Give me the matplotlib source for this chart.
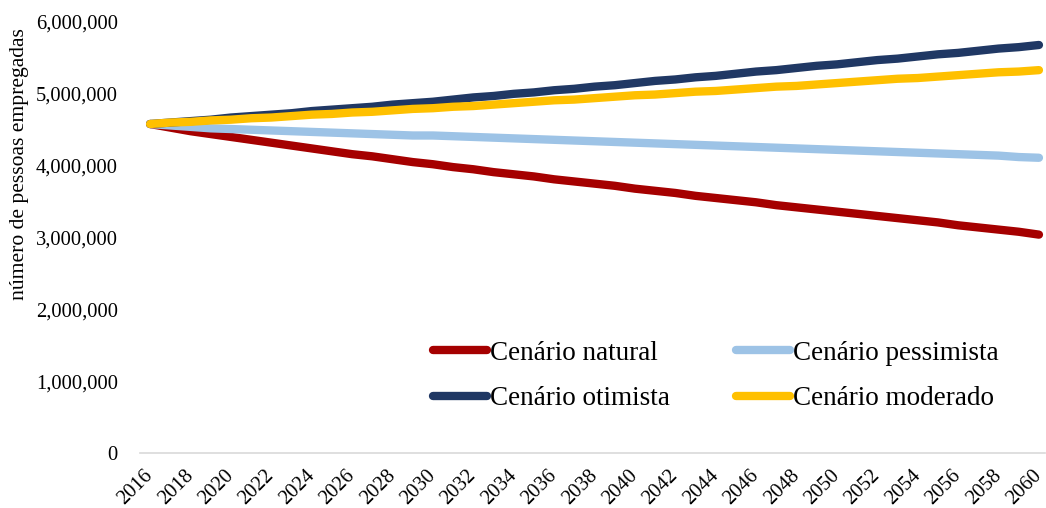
import matplotlib
matplotlib.use("Agg")
import matplotlib.pyplot as plt
from matplotlib.ticker import FuncFormatter

plt.rcParams['font.family'] = ['Liberation Serif', 'DejaVu Serif']

years = list(range(2016, 2061))

natural = [4.58, 4.53, 4.48, 4.44, 4.40, 4.36, 4.32, 4.28, 4.24, 4.20,
           4.16, 4.13, 4.09, 4.05, 4.02, 3.98, 3.95, 3.91, 3.88, 3.85,
           3.81, 3.78, 3.75, 3.72, 3.68, 3.65, 3.62, 3.58, 3.55, 3.52,
           3.49, 3.45, 3.42, 3.39, 3.36, 3.33, 3.30, 3.27, 3.24, 3.21,
           3.17, 3.14, 3.11, 3.08, 3.04]

pessimista = [4.58, 4.56, 4.54, 4.52, 4.51, 4.50, 4.49, 4.48, 4.47, 4.46,
              4.45, 4.44, 4.43, 4.42, 4.42, 4.41, 4.40, 4.39, 4.38, 4.37,
              4.36, 4.35, 4.34, 4.33, 4.32, 4.31, 4.30, 4.29, 4.28, 4.27,
              4.26, 4.25, 4.24, 4.23, 4.22, 4.21, 4.20, 4.19, 4.18, 4.17,
              4.16, 4.15, 4.14, 4.12, 4.11]

otimista = [4.58, 4.60, 4.62, 4.64, 4.67, 4.69, 4.71, 4.73, 4.76, 4.78,
            4.80, 4.82, 4.85, 4.87, 4.89, 4.92, 4.95, 4.97, 5.00, 5.02,
            5.05, 5.07, 5.10, 5.12, 5.15, 5.18, 5.20, 5.23, 5.25, 5.28,
            5.31, 5.33, 5.36, 5.39, 5.41, 5.44, 5.47, 5.49, 5.52, 5.55,
            5.57, 5.60, 5.63, 5.65, 5.68]

moderado = [4.58, 4.60, 4.61, 4.63, 4.64, 4.66, 4.67, 4.69, 4.71, 4.72,
            4.74, 4.75, 4.77, 4.79, 4.80, 4.82, 4.83, 4.85, 4.87, 4.89,
            4.91, 4.92, 4.94, 4.96, 4.98, 4.99, 5.01, 5.03, 5.04, 5.06,
            5.08, 5.10, 5.11, 5.13, 5.15, 5.17, 5.19, 5.21, 5.22, 5.24,
            5.26, 5.28, 5.30, 5.31, 5.33]

series_labels = ["Cenário natural", "Cenário pessimista", "Cenário otimista", "Cenário moderado"]
colors = ["#A50000", "#9DC3E6", "#203864", "#FFC000"]
xtick_years = list(range(2016, 2061, 2))
yticks = [0, 1000000, 2000000, 3000000, 4000000, 5000000, 6000000]
ylabel = "número de pessoas empregadas"

fig = plt.figure(figsize=(10.46, 5.08), dpi=100)
ax = fig.add_axes([140/1046, 55/508, 905/1046, 431/508])

lines = {}
for vals, lab, col in zip([natural, pessimista, otimista, moderado], series_labels, colors):
    (ln,) = ax.plot(years, [v * 1e6 for v in vals], color=col, lw=6.0,
                    solid_capstyle='round', solid_joinstyle='round', label=lab)
    lines[lab] = ln

ax.set_xlim(2015.5, 2060.3)
ax.set_ylim(0, 6000000)
ax.set_yticks(yticks)
ax.yaxis.set_major_formatter(FuncFormatter(lambda v, p: f"{int(v):,}"))
ax.set_xticks(xtick_years)
ax.set_xticklabels([str(y) for y in xtick_years], rotation=45, ha='right',
                   va='center', rotation_mode='anchor')
ax.tick_params(axis='both', length=0, labelsize=14.8, colors='#000000')
ax.tick_params(axis='y', pad=16)
ax.tick_params(axis='x', pad=14.5)

for s in ['top', 'right', 'left']:
    ax.spines[s].set_visible(False)
ax.spines['bottom'].set_color('#D9D9D9')
ax.spines['bottom'].set_linewidth(1.2)

fig.text(20/1046, 1 - 164/508, ylabel, rotation=90, ha='center', va='center', fontsize=15.6)

order = ["Cenário natural", "Cenário otimista", "Cenário pessimista", "Cenário moderado"]
leg = fig.legend([lines[k] for k in order], order, ncol=2, loc='center',
                 bbox_to_anchor=(716/1046, 1 - 376/508), frameon=False,
                 fontsize=19.5, handlelength=2.0, handletextpad=0.1,
                 columnspacing=2.45, labelspacing=0.75, borderpad=0, borderaxespad=0)

fig.savefig("out.png", dpi=100)
